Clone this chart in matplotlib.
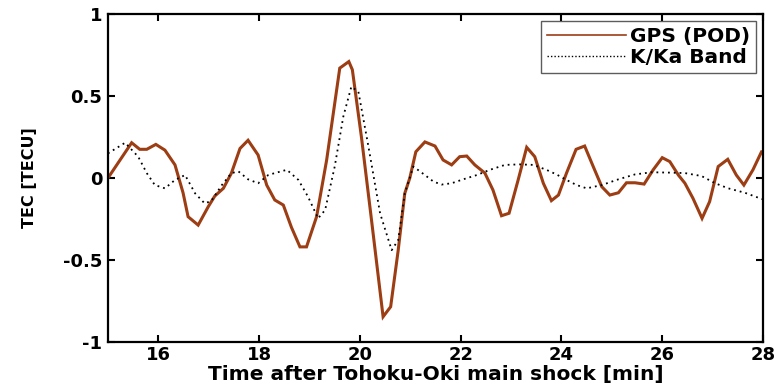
import matplotlib
matplotlib.use("Agg")
import matplotlib.pyplot as plt
from matplotlib.lines import Line2D

plt.rcParams['font.family'] = ['DejaVu Sans']
plt.rcParams['font.weight'] = 'bold'

# GPS (POD) TEC series, minutes after main shock
gps_t = [15.0, 15.47, 15.63, 15.77, 15.95, 16.13, 16.33, 16.49, 16.59, 16.79,
         16.99, 17.12, 17.29, 17.45, 17.62, 17.78, 17.98, 18.15, 18.31, 18.48,
         18.64, 18.81, 18.94, 19.14, 19.34, 19.50, 19.60, 19.78, 19.85, 20.03,
         20.23, 20.46, 20.61, 20.76, 20.89, 20.99, 21.11, 21.29, 21.49, 21.65,
         21.82, 21.98, 22.12, 22.28, 22.48, 22.64, 22.81, 22.96, 23.14, 23.31,
         23.47, 23.64, 23.80, 23.94, 24.10, 24.29, 24.46, 24.63, 24.80, 24.96,
         25.13, 25.29, 25.46, 25.64, 25.82, 26.00, 26.15, 26.32, 26.45, 26.61,
         26.79, 26.94, 27.11, 27.30, 27.47, 27.62, 27.80, 27.97, 28.0]
gps_tec = [0.0, 0.215, 0.175, 0.175, 0.205, 0.17, 0.08, -0.09, -0.236, -0.287,
           -0.175, -0.11, -0.063, 0.03, 0.18, 0.23, 0.14, -0.043, -0.134, -0.165,
           -0.3, -0.42, -0.42, -0.236, 0.11, 0.455, 0.67, 0.71, 0.66, 0.25,
           -0.256, -0.846, -0.785, -0.44, -0.094, 0.0, 0.16, 0.22, 0.195, 0.11,
           0.08, 0.13, 0.134, 0.08, 0.03, -0.073, -0.23, -0.215, -0.012, 0.187,
           0.13, -0.032, -0.138, -0.104, 0.03, 0.175, 0.195, 0.07, -0.053, -0.104,
           -0.09, -0.029, -0.029, -0.037, 0.05, 0.124, 0.1, 0.018, -0.032, -0.124,
           -0.246, -0.144, 0.07, 0.114, 0.018, -0.043, 0.05, 0.16, 0.16]

# K/Ka band TEC series
ka_t = [15.0, 15.34, 15.6, 15.77, 15.93, 16.13, 16.33, 16.53, 16.73, 16.92,
        17.05, 17.26, 17.45, 17.59, 17.78, 17.98, 18.18, 18.31, 18.55, 18.78,
        18.97, 19.17, 19.31, 19.5, 19.67, 19.83, 19.97, 20.17, 20.40, 20.63,
        20.76, 20.89, 21.06, 21.29, 21.46, 21.62, 21.82, 22.05, 22.32, 22.58,
        22.88, 23.17, 23.44, 23.70, 23.90, 24.10, 24.30, 24.50, 24.80, 25.13,
        25.46, 25.79, 26.12, 26.45, 26.78, 27.05, 27.31, 27.64, 27.94, 28.0]
ka_tec = [0.15, 0.215, 0.13, 0.03, -0.043, -0.063, -0.012, 0.018, -0.094, -0.155,
          -0.14, -0.043, 0.03, 0.04, -0.008, -0.032, 0.018, 0.03, 0.05, -0.012,
          -0.114, -0.246, -0.195, 0.07, 0.374, 0.557, 0.526, 0.19, -0.215, -0.44,
          -0.378, -0.094, 0.07, 0.018, -0.022, -0.04, -0.032, -0.008, 0.018, 0.05,
          0.08, 0.083, 0.08, 0.05, 0.022, -0.012, -0.043, -0.063, -0.043, -0.008,
          0.022, 0.035, 0.033, 0.03, 0.012, -0.032, -0.063, -0.09, -0.124, -0.13]

x_ticks = [16, 18, 20, 22, 24, 26, 28]
y_ticks = [-1, -0.5, 0, 0.5, 1]
y_tick_labels = ["-1", "-0.5", "0", "0.5", "1"]

gps_color = '#9C3D14'

fig = plt.figure(figsize=(7.79, 3.85), dpi=100, facecolor='white')
ax = fig.add_axes([0.1386, 0.1117, 0.8409, 0.8519])

ax.plot(gps_t, gps_tec, color=gps_color, lw=2.2, solid_joinstyle='miter')
ax.plot(ka_t, ka_tec, color='black', lw=1.3, linestyle=(0, (1, 2.2)))

ax.set_xlim(15, 28)
ax.set_ylim(-1, 1)
ax.set_xticks(x_ticks)
ax.set_xticklabels([str(v) for v in x_ticks])
ax.set_yticks(y_ticks)
ax.set_yticklabels(y_tick_labels)

ax.tick_params(direction='in', length=5, width=1.5, top=True, right=True,
               labelsize=13, pad=4)
ax.tick_params(axis='x', pad=3)
for s in ax.spines.values():
    s.set_linewidth(1.6)

ax.set_xlabel('Time after Tohoku-Oki main shock [min]', fontsize=14.5,
              fontweight='bold', labelpad=0.5)
ax.set_ylabel('TEC [TECU]', fontsize=11.5, fontweight='bold', labelpad=19)

# legend uses thinner handle lines, like the original
handles = [Line2D([], [], color=gps_color, lw=1.2),
           Line2D([], [], color='black', lw=1.0, linestyle=(0, (1, 1.5)))]
leg = ax.legend(handles, ['GPS (POD)', 'K/Ka Band'], loc='upper right',
                fontsize=14.5, frameon=True, fancybox=False, handlelength=3.9,
                handletextpad=0.2, borderpad=0.3, labelspacing=0.1,
                borderaxespad=0.35)
leg.get_frame().set_edgecolor('#333333')
leg.get_frame().set_linewidth(1.0)
for txt in leg.get_texts():
    txt.set_fontweight('bold')

fig.savefig('out.png', dpi=100, facecolor='white')
